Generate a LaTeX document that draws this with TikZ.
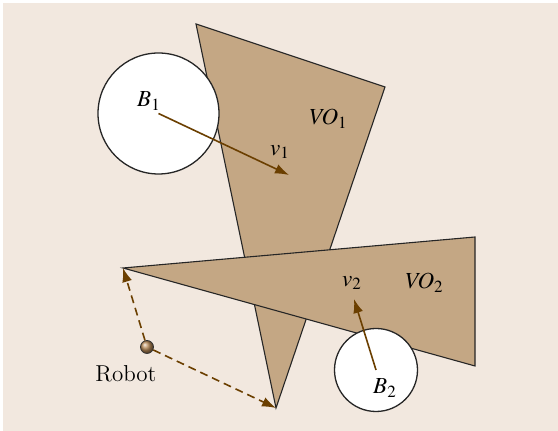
\documentclass[tikz,border=0pt]{standalone}
\usepackage{mathptmx}
\usetikzlibrary{arrows.meta}
\definecolor{bgc}{HTML}{F2E8DF}
\definecolor{voc}{HTML}{C4A784}
\definecolor{arrc}{HTML}{6B3F00}
\definecolor{ballc}{HTML}{B88A58}
\begin{document}
\begin{tikzpicture}[x=0.5pt,y=-0.5pt,
  font=\fontsize{11.5}{13}\selectfont,
  vo/.style={fill=voc,draw=black!85,line width=0.55pt,line join=miter},
  obst/.style={circle,fill=white,draw=black!85,line width=0.65pt,inner sep=0pt},
  vel/.style={draw=arrc,line width=0.8pt,-{Latex[length=7pt,width=5pt]}},
  dsh/.style={draw=arrc,line width=0.8pt,dash pattern=on 4pt off 2.5pt,-{Latex[length=7pt,width=5pt]}},
  txt/.style={inner sep=0pt}]
\useasboundingbox (0,0) rectangle (558,431);
\fill[white] (0,0) rectangle (558,431);
\fill[bgc] (3,3) rectangle (558,431);
% VO1
\coordinate (a1) at (196,24);
\coordinate (a2) at (385,87);
\coordinate (a3) at (276,408);
\draw[vo] (a1) -- (a2) -- (a3) -- cycle;
% VO2
\coordinate (c1) at (123,268);
\coordinate (c2) at (475,237);
\coordinate (c3) at (475,366);
\draw[vo] (c1) -- (c2) -- (c3) -- cycle;
% obstacles
\node[obst,minimum size=60.5pt] (b1) at (158.5,113.5) {};
\node[obst,minimum size=41.5pt] (b2) at (376,370) {};
% velocities
\coordinate (v1e) at (289,175);
\coordinate (v2e) at (354,299);
\draw[vel] (b1.center) -- (v1e);
\draw[vel] (b2.center) -- (v2e);
% labels
\node[txt] (lb1) at (149,101) {$B_1$};
\node[txt] (lv1) at (280,152) {$v_1$};
\node[txt] (lvo1) at (328,119) {$\mathit{VO}_1$};
\node[txt] (lv2) at (352,283) {$v_2$};
\node[txt] (lvo2) at (424,283) {$\mathit{VO}_2$};
\node[txt] (lb2) at (385,388) {$B_2$};
% robot
\node[circle,minimum size=6.5pt,inner sep=0pt,shading=ball,ball color=ballc,draw=black!80,line width=0.4pt] (rob) at (147,347) {};
\node[txt] (lrob) at (126,374) {Robot};
\draw[dsh] (rob) -- (c1);
\draw[dsh] (rob) -- (a3);
\end{tikzpicture}
\end{document}
